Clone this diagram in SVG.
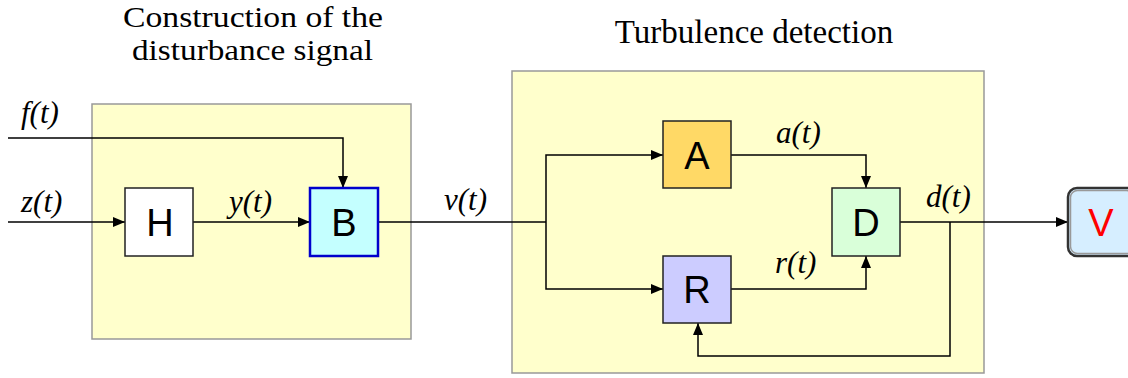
<svg xmlns="http://www.w3.org/2000/svg" width="1128" height="378" viewBox="0 0 1128 378">
<defs>
<marker id="arr" markerWidth="12" markerHeight="10" refX="12" refY="5" orient="auto" markerUnits="userSpaceOnUse">
<path d="M0,0 L12,5 L0,10 Z" fill="#000"/>
</marker>
<style>
.grp{fill:#ffffcc;stroke:#999;stroke-width:1.5}
.blk{stroke:#222;stroke-width:1.5}
.lbl{font-family:"Liberation Sans",Arial,sans-serif;font-size:38px;text-anchor:middle;fill:#000}
.sig{font-family:"Liberation Serif","Times New Roman",serif;font-style:italic;font-size:31px;fill:#000}
.ttl{font-family:"Liberation Serif","Times New Roman",serif;font-size:29px;fill:#000}
.ttl2{font-family:"Liberation Serif","Times New Roman",serif;font-size:33px;text-anchor:middle;fill:#000}
.ln{fill:none;stroke:#000;stroke-width:1.5}
</style>
</defs>
<rect width="1128" height="378" fill="#fff"/>
<g id="group-construction">
<rect class="grp" x="92" y="104" width="319" height="235"/>
<text class="ttl" x="123" y="27" textLength="260" lengthAdjust="spacingAndGlyphs">Construction of the</text>
<text class="ttl" x="132" y="60" textLength="241" lengthAdjust="spacingAndGlyphs">disturbance signal</text>
</g>
<g id="group-turbulence">
<rect class="grp" x="512" y="71" width="472" height="302"/>
<text class="ttl2" x="754" y="43">Turbulence detection</text>
</g>
<g id="connectors">
<path class="ln" d="M8,138 H343 V188" marker-end="url(#arr)"/>
<path class="ln" d="M8,222 H125" marker-end="url(#arr)"/>
<path class="ln" d="M193,222 H310" marker-end="url(#arr)"/>
<path class="ln" d="M378,222 H546"/>
<path class="ln" d="M546,222 V155 H663" marker-end="url(#arr)"/>
<path class="ln" d="M546,222 V289 H663" marker-end="url(#arr)"/>
<path class="ln" d="M731,155 H866 V188" marker-end="url(#arr)"/>
<path class="ln" d="M731,289 H866 V256" marker-end="url(#arr)"/>
<path class="ln" d="M900,222 H1068" marker-end="url(#arr)"/>
<path class="ln" d="M950,222 V356 H698 V323" marker-end="url(#arr)"/>
<text class="sig" x="21" y="123">f(t)</text>
<text class="sig" x="21" y="212">z(t)</text>
<text class="sig" x="229" y="212">y(t)</text>
<text class="sig" x="444" y="210">v(t)</text>
<text class="sig" x="776" y="143">a(t)</text>
<text class="sig" x="775" y="273">r(t)</text>
<text class="sig" x="926" y="207">d(t)</text>
</g>
<g id="node-H">
<rect class="blk" x="125" y="188" width="68" height="68" fill="#ffffff"/>
<text class="lbl" x="160" y="236">H</text>
</g>
<g id="node-B">
<rect x="310" y="188" width="68" height="68" fill="#c4ffff" stroke="#0000cc" stroke-width="2.5"/>
<text class="lbl" x="344" y="236">B</text>
</g>
<g id="node-A">
<rect class="blk" x="663" y="121" width="68" height="67" fill="#ffd966"/>
<text class="lbl" x="697" y="169">A</text>
</g>
<g id="node-R">
<rect class="blk" x="663" y="256" width="68" height="67" fill="#ccccff"/>
<text class="lbl" x="697" y="303">R</text>
</g>
<g id="node-D">
<rect class="blk" x="832" y="188" width="68" height="68" fill="#d9ffd9"/>
<text class="lbl" x="866" y="236">D</text>
</g>
<g id="node-V">
<rect x="1068" y="188" width="68" height="68" rx="9" fill="#d6eeff" stroke="#333" stroke-width="2.5"/>
<rect x="1070.5" y="190.5" width="63" height="63" rx="7" fill="none" stroke="#999" stroke-width="1.5"/>
<text class="lbl" x="1101" y="236" style="fill:#ff0000">V</text>
</g>
</svg>
